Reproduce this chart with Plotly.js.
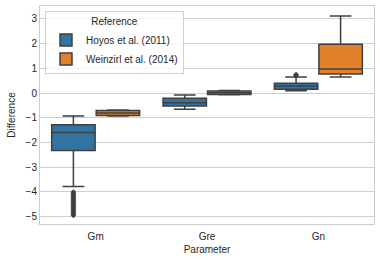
<!DOCTYPE html>
<html>
<head>
<meta charset="utf-8">
<script src="https://cdn.plot.ly/plotly-3.0.1.min.js"></script>
<style>html,body{margin:0;padding:0;background:#fff;}#chart{width:380px;height:260px;}</style>
</head>
<body>
<div id="chart"></div>
<script>
var categories = ["Gm", "Gre", "Gn"];
var seriesNames = ["Hoyos et al. (2011)", "Weinzirl et al. (2014)"];
var seriesColors = ["#3274a1", "#e1812c"];

// [Gm, Gre, Gn]
var hoyosLower  = [-3.78, -0.66, 0.09];
var hoyosQ1     = [-2.33, -0.53, 0.15];
var hoyosMedian = [-1.60, -0.39, 0.28];
var hoyosQ3     = [-1.28, -0.21, 0.39];
var hoyosUpper  = [-0.93, -0.08, 0.65];

var weinLower  = [-0.93, -0.07, 0.65];
var weinQ1     = [-0.91, -0.06, 0.77];
var weinMedian = [-0.81, 0.01, 0.97];
var weinQ3     = [-0.71, 0.08, 1.97];
var weinUpper  = [-0.69, 0.10, 3.12];

// outliers (category index, value)
var hoyosOutlierCat = [0,0,0,0,0,0,0,0,0,0,0,0,0,0,2,2];
var hoyosOutlierVal = [-4.01,-4.07,-4.14,-4.21,-4.28,-4.35,-4.43,-4.50,-4.58,-4.65,-4.72,-4.80,-4.87,-4.95,0.70,0.74];

var yTicks = [-5, -4, -3, -2, -1, 0, 1, 2, 3];

var offset = 0.2, boxW = 0.39;
var idx = categories.map(function(c, i){ return i; });
var lineCol = "#3f3f3f";

function boxTrace(name, color, sign, lo, q1, med, q3, hi) {
  return {
    type: "box", name: name,
    x: idx.map(function(i){ return i + sign * offset; }),
    lowerfence: lo, q1: q1, median: med, q3: q3, upperfence: hi,
    width: boxW, whiskerwidth: 0.5,
    fillcolor: color,
    line: {color: lineCol, width: 1.5},
    boxpoints: false, hoverinfo: "skip"
  };
}

var data = [
  boxTrace(seriesNames[0], seriesColors[0], -1, hoyosLower, hoyosQ1, hoyosMedian, hoyosQ3, hoyosUpper),
  boxTrace(seriesNames[1], seriesColors[1], 1, weinLower, weinQ1, weinMedian, weinQ3, weinUpper),
  {
    type: "scatter", mode: "markers", showlegend: false,
    x: hoyosOutlierCat.map(function(i){ return i - offset; }),
    y: hoyosOutlierVal,
    marker: {symbol: "diamond", size: 4.5, color: lineCol, line: {width: 0}},
    hoverinfo: "skip"
  }
];

var fontFam = "Liberation Sans, Arial, sans-serif";
var layout = {
  width: 380, height: 260,
  margin: {l: 40, r: 6, t: 6, b: 36},
  paper_bgcolor: "#fff", plot_bgcolor: "#fff",
  font: {family: fontFam, size: 10, color: "#262626"},
  showlegend: true,
  xaxis: {
    range: [-0.5, 2.5], tickvals: idx, ticktext: categories,
    showgrid: false, zeroline: false,
    showline: true, mirror: true, linecolor: "#cccccc", linewidth: 1,
    ticks: "", ticklen: 0, ticklabelstandoff: 3,
    title: {text: "Parameter", font: {size: 10, color: "#262626"}, standoff: 4},
    tickfont: {size: 10, color: "#262626"}
  },
  yaxis: {
    range: [-5.3, 3.52], tickvals: yTicks,
    ticktext: yTicks.map(function(v){ return v < 0 ? "\u2212" + Math.abs(v) : String(v); }),
    showgrid: true, gridcolor: "#d0d0d0", gridwidth: 1, zeroline: false,
    showline: true, mirror: true, linecolor: "#cccccc", linewidth: 1,
    ticks: "", ticklen: 0,
    title: {text: "Difference", font: {size: 10, color: "#262626"}, standoff: 8},
    tickfont: {size: 10, color: "#262626"}
  },
  legend: {
    x: 0.015, y: 0.975, xanchor: "left", yanchor: "top",
    bgcolor: "rgba(255,255,255,0.8)", bordercolor: "#d0d0d0", borderwidth: 1,
    title: {text: "Reference", side: "top center", font: {size: 10, color: "#262626"}},
    font: {size: 10, color: "#262626"},
    tracegroupgap: 0, itemwidth: 30
  }
};

Plotly.newPlot("chart", data, layout, {displayModeBar: false, staticPlot: true});
</script>
</body>
</html>
